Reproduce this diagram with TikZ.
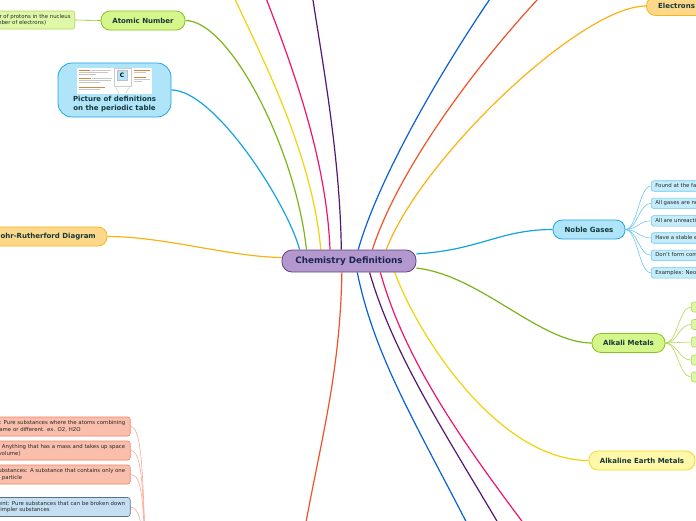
\documentclass[tikz,border=0pt]{standalone}
\usepackage{fontspec}
\setmainfont{DejaVu Sans}
\usetikzlibrary{backgrounds,positioning}
\definecolor{rootfill}{RGB}{178,152,204}
\definecolor{rootdraw}{RGB}{98,68,128}
\definecolor{rootink}{RGB}{28,38,80}
\definecolor{labelink}{RGB}{22,56,58}
\definecolor{leafink}{RGB}{40,40,40}
\definecolor{limefill}{RGB}{213,246,138}
\definecolor{limedraw}{RGB}{138,194,30}
\definecolor{skyfill}{RGB}{176,229,249}
\definecolor{skydraw}{RGB}{30,166,224}
\definecolor{goldfill}{RGB}{253,216,138}
\definecolor{golddraw}{RGB}{249,180,28}
\definecolor{lemonfill}{RGB}{255,248,168}
\definecolor{lemondraw}{RGB}{240,220,40}
\definecolor{salmonfill}{RGB}{250,190,172}
\definecolor{salmondraw}{RGB}{246,130,100}
\definecolor{steelfill}{RGB}{196,222,242}
\definecolor{steeldraw}{RGB}{88,112,138}
\definecolor{skyleaffill}{RGB}{196,236,250}
\definecolor{skyleafdraw}{RGB}{110,200,240}
\definecolor{limeleaffill}{RGB}{222,248,168}
\definecolor{limeleafdraw}{RGB}{178,218,84}
\definecolor{brlime}{RGB}{124,181,24}
\definecolor{brsky}{RGB}{20,164,226}
\definecolor{brgold}{RGB}{250,178,20}
\definecolor{bryellow}{RGB}{240,212,10}
\definecolor{brpink}{RGB}{240,20,110}
\definecolor{brpurple}{RGB}{86,24,110}
\definecolor{brblue}{RGB}{10,96,216}
\definecolor{brorange}{RGB}{240,82,40}
\definecolor{thumborange}{RGB}{200,140,60}
\tikzset{
  basebox/.style={rectangle,draw,align=center,inner sep=0pt,line width=0.8pt,text=labelink,font=\fontsize{7}{9}\selectfont\bfseries},
  topicnode/.style={basebox,rounded corners=9pt,minimum height=19pt},
  rootnode/.style={basebox,fill=rootfill,draw=rootdraw,rounded corners=10pt,minimum width=134pt,minimum height=22pt,text=rootink,font=\fontsize{8.8}{10}\selectfont\bfseries},
  limenode/.style={topicnode,fill=limefill,draw=limedraw},
  skynode/.style={topicnode,fill=skyfill,draw=skydraw},
  goldnode/.style={topicnode,fill=goldfill,draw=golddraw},
  lemonnode/.style={topicnode,fill=lemonfill,draw=lemondraw},
  leafbox/.style={rectangle,rounded corners=2.5pt,draw,line width=0.6pt,align=left,inner xsep=4pt,inner ysep=0pt,text=leafink,font=\fontsize{5.4}{6.5}\selectfont},
  skyleaf/.style={leafbox,fill=skyleaffill,draw=skyleafdraw,minimum height=10.5pt,anchor=west},
  limeleaf/.style={leafbox,fill=limeleaffill,draw=limeleafdraw,minimum height=10pt,minimum width=30pt,anchor=west},
  salmonleaf/.style={leafbox,fill=salmonfill,draw=salmondraw,minimum height=19pt,anchor=east,inner xsep=5pt},
  steelleaf/.style={leafbox,fill=steelfill,draw=steeldraw,minimum height=19pt,anchor=east,inner xsep=5pt},
  branch/.style={line width=1.2pt},
  twig/.style={line width=0.6pt},
  thumbline/.style={line width=0.5pt,gray!45}
}

\begin{document}
\begin{tikzpicture}[x=1pt,y=-1pt]
  \useasboundingbox (0,0) rectangle (696,520);
  \clip (0,0) rectangle (696,520);

  %% ROOT
  \node[rootnode] (root) at (349,261) {Chemistry Definitions};

  %% LEFT TOPICS
  \node[limenode,minimum width=84pt] (atomic) at (143,20.5) {Atomic Number};
  \node[leafbox,fill=limeleaffill,draw=limeleafdraw,minimum height=18pt,anchor=east]
    (atomicdef) at (75,20) {Number of protons in the nucleus\\(or number of electrons)};
  \node[skynode,minimum width=113pt,minimum height=54pt,rounded corners=14pt] (pic) at (114.5,90) {};
  \node[font=\fontsize{7}{9}\selectfont\bfseries,text=labelink,align=center,inner sep=0pt]
    (pictext) at (114.5,104.5) {Picture of definitions\\on the periodic table};
  \node[goldnode,minimum width=123pt] (bohr) at (45.5,236.5) {Bohr-Rutherford Diagram};

  %% THUMBNAIL INSIDE THE PICTURE NODE
  \fill[white] (77,68) rectangle (152,94);
  \draw[thumbline,thumborange] (79,70) -- (90,70);
  \draw[thumbline] (91,70) -- (111,70);
  \draw[thumbline] (79,72.3) -- (108,72.3);
  \draw[thumbline] (79,74.6) -- (96,74.6);
  \draw[thumbline,thumborange] (79,78) -- (91,78);
  \draw[thumbline] (92,78) -- (112,78);
  \draw[thumbline] (79,80.3) -- (111,80.3);
  \draw[thumbline] (79,82.6) -- (100,82.6);
  \draw[thumbline,thumborange] (79,87) -- (105,87);
  \draw[thumbline] (79,89.3) -- (100,89.3);
  \draw[gray!40,line width=0.4pt] (114,68) rectangle (131,86);
  \node[fill=cyan!30,draw=gray!50,line width=0.4pt,minimum size=10pt,inner sep=0pt,
        font=\fontsize{6}{6}\selectfont\bfseries] (csquare) at (122,75) {C};
  \draw[gray!40,line width=0.4pt] (115,86) -- (119,93) (130,86) -- (126,93);
  \draw[thumbline,thumborange] (134,70) -- (150,70);
  \draw[thumbline] (134,72.3) -- (146,72.3);
  \draw[thumbline,thumborange] (134,77) -- (146,77);
  \draw[thumbline] (134,79.3) -- (150,79.3);
  \draw[thumbline] (134,81.6) -- (142,81.6);

  %% RIGHT TOPICS
  \node[goldnode,minimum width=60pt] (electrons) at (676.5,6) {Electrons};
  \node[skynode,minimum width=72pt] (noble) at (589,229.5) {Noble Gases};
  \node[limenode,minimum width=73pt] (alkali) at (628.5,343) {Alkali Metals};
  \node[lemonnode,minimum width=106pt] (earth) at (642,460.5) {Alkaline Earth Metals};

  %% NOBLE GAS FACTS
  \node[skyleaf] (ng1) at (651,186) {Found at the far right of the table};
  \node[skyleaf] (ng2) at (651,203.3) {All gases are non-metals};
  \node[skyleaf] (ng3) at (651,220.8) {All are unreactive};
  \node[skyleaf] (ng4) at (651,238) {Have a stable electron arrangement};
  \node[skyleaf] (ng5) at (651,255.3) {Don't form compounds};
  \node[skyleaf] (ng6) at (651,272.8) {Examples: Neon, Argon};

  %% ALKALI METAL FACTS
  \node[limeleaf] (am1) at (691,307) {};
  \node[limeleaf] (am2) at (691,324.5) {};
  \node[limeleaf] (am3) at (691,342) {};
  \node[limeleaf] (am4) at (691,360) {};
  \node[limeleaf] (am5) at (691,377) {};

  %% MATTER DEFINITIONS (BOTTOM LEFT)
  \node[salmonleaf] (molecule) at (130.5,426.5) {Molecule: Pure substances where the atoms combining\\are the same or different. ex. O2, H2O};
  \node[salmonleaf] (matter) at (130.5,450.5) {Matter: Anything that has a mass and takes up space\\(has a volume)};
  \node[salmonleaf] (pure) at (130.5,474.5) {Pure Substances: A substance that contains only one\\type of particle};
  \node[steelleaf] (element) at (130.5,507) {Element: Pure substances that can be broken down\\into simpler substances};

  %% OFF-PAGE ENDS
  \coordinate (topyellow) at (226,-20);
  \coordinate (toppink) at (259,-20);
  \coordinate (toppurple) at (310,-20);
  \coordinate (topblue) at (503,-20);
  \coordinate (toporange) at (556,-20);
  \coordinate (botorange) at (302,545);
  \coordinate (botblue) at (478,545);
  \coordinate (botpurple) at (511,545);
  \coordinate (botpink) at (540,545);
  \coordinate (matterhub) at (146,570);

  %% CONNECTIONS
  \begin{pgfonlayer}{background}
    \begin{scope}
    \clip (0,0) rectangle (696,520);
    \fill[white] (0,0) rectangle (696,520);
    \draw[branch,brgold] (root.177) .. controls (230,257) and (165,236.5) .. (bohr.east);
    \draw[branch,brsky] (root.167) .. controls (288,205) and (215,90) .. (pic.east);
    \draw[branch,brlime] (root.165) .. controls (296,150) and (230,20.5) .. (atomic.east);
    \draw[twig,limedraw] (atomic.west) -- (atomicdef.east);
    \draw[branch,bryellow] (root.158) .. controls (312,150) and (258,50) .. (topyellow);
    \draw[branch,brpink] (root.149) .. controls (326,150) and (286,50) .. (toppink);
    \draw[branch,brpurple] (root.124) .. controls (340,150) and (320,50) .. (toppurple);
    \draw[branch,brblue] (root.51) .. controls (378,180) and (440,70) .. (topblue);
    \draw[branch,brorange] (root.26) .. controls (398,170) and (478,60) .. (toporange);
    \draw[branch,brgold] (root.17) .. controls (420,160) and (580,6) .. (electrons.west);
    \draw[branch,brsky] (root.6) .. controls (480,250) and (500,229.5) .. (noble.west);
    \draw[branch,brlime] (root.354) .. controls (480,275) and (540,343) .. (alkali.west);
    \draw[branch,bryellow] (root.346) .. controls (420,340) and (500,460.5) .. (earth.west);
    \draw[branch,brorange] (root.238) .. controls (340,380) and (318,450) .. (botorange);
    \draw[branch,brblue] (root.306) .. controls (375,360) and (420,430) .. (botblue);
    \draw[branch,brpurple] (root.331) .. controls (395,360) and (450,440) .. (botpurple);
    \draw[branch,brpink] (root.340) .. controls (405,360) and (460,440) .. (botpink);
    \draw[twig,skyleafdraw] (noble.east) .. controls +(12,0) and +(-12,0) .. (ng1.west);
    \draw[twig,skyleafdraw] (noble.east) .. controls +(12,0) and +(-12,0) .. (ng2.west);
    \draw[twig,skyleafdraw] (noble.east) .. controls +(12,0) and +(-12,0) .. (ng3.west);
    \draw[twig,skyleafdraw] (noble.east) .. controls +(12,0) and +(-12,0) .. (ng4.west);
    \draw[twig,skyleafdraw] (noble.east) .. controls +(12,0) and +(-12,0) .. (ng5.west);
    \draw[twig,skyleafdraw] (noble.east) .. controls +(12,0) and +(-12,0) .. (ng6.west);
    \draw[twig,limeleafdraw] (alkali.east) .. controls +(12,0) and +(-12,0) .. (am1.west);
    \draw[twig,limeleafdraw] (alkali.east) .. controls +(12,0) and +(-12,0) .. (am2.west);
    \draw[twig,limeleafdraw] (alkali.east) .. controls +(12,0) and +(-12,0) .. (am3.west);
    \draw[twig,limeleafdraw] (alkali.east) .. controls +(12,0) and +(-12,0) .. (am4.west);
    \draw[twig,limeleafdraw] (alkali.east) .. controls +(12,0) and +(-12,0) .. (am5.west);
    \draw[twig,salmondraw!70] (molecule.east) .. controls +(12,0) and +(-3,-90) .. (matterhub);
    \draw[twig,salmondraw!70] (matter.east) .. controls +(12,0) and +(-3,-80) .. (matterhub);
    \draw[twig,salmondraw!70] (pure.east) .. controls +(12,0) and +(-3,-70) .. (matterhub);
    \draw[twig,salmondraw!70] (element.east) .. controls +(10,0) and +(-3,-40) .. (matterhub);
    \end{scope}
  \end{pgfonlayer}
\end{tikzpicture}
\end{document}
